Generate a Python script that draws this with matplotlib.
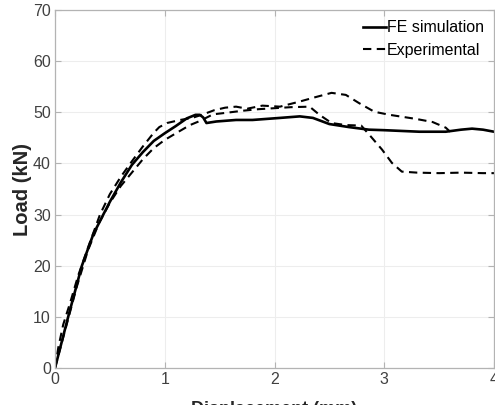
import matplotlib
matplotlib.use("Agg")
import matplotlib.pyplot as plt

plt.rcParams['font.family'] = ['Liberation Sans', 'DejaVu Sans']

# FE simulation curve (displacement mm, load kN)
fe_x = [0, 0.12, 0.245, 0.35, 0.44, 0.5, 0.6, 0.7, 0.8, 0.9, 1.0, 1.1, 1.2, 1.28, 1.32, 1.35,
        1.38, 1.47, 1.65, 1.8, 2.05, 2.23, 2.35, 2.5, 2.68, 2.86, 3.0, 3.32, 3.56, 3.7, 3.8, 3.9, 4.0]
fe_y = [0, 10, 20, 26.2, 30, 32.5, 36.3, 39.7, 42.2, 44.4, 45.9, 47.3, 48.8, 49.5, 49.5, 49.0,
        47.9, 48.2, 48.5, 48.5, 48.9, 49.2, 48.9, 47.7, 47.1, 46.6, 46.5, 46.2, 46.2, 46.6, 46.8, 46.6, 46.2]

# experimental specimen 1 (drops to ~38 kN)
exp1_x = [0, 0.03, 0.075, 0.14, 0.21, 0.3, 0.41, 0.5, 0.6, 0.7, 0.8, 0.9, 0.95, 1.02, 1.14,
          1.25, 1.35, 1.45, 1.55, 1.65, 1.75, 1.89, 2.05, 2.23, 2.38, 2.52, 2.65, 2.77, 2.91,
          3.05, 3.29, 3.44, 3.56, 3.6]
exp1_y = [0, 4, 8.5, 12.9, 18, 23.5, 30, 34, 37.4, 40.4, 43.3, 46, 47.1, 47.9, 48.5,
          48.9, 49.6, 50.4, 50.9, 51.1, 50.7, 51.3, 51.1, 52.1, 53, 53.8, 53.4, 51.8, 50.1,
          49.5, 48.7, 48.1, 47, 46.2]

# experimental specimen 2 (lower one early, peaks ~51 kN)
exp2_x = [0, 0.1, 0.2, 0.3, 0.4, 0.5, 0.6, 0.7, 0.8, 0.9, 1.0, 1.11, 1.23, 1.32, 1.44,
          1.56, 1.71, 1.85, 2.0, 2.15, 2.32, 2.41, 2.52, 2.65, 2.79, 2.88, 2.98,
          3.07, 3.16, 3.3, 3.5, 3.7, 3.9, 4.0]
exp2_y = [0, 8, 16, 23, 28.3, 32.3, 35.6, 38.2, 40.8, 43, 44.6, 46, 47.5, 48.3, 49.6,
          49.9, 50.3, 50.6, 50.8, 51, 51.1, 49.5, 47.9, 47.5, 47.4, 45.2, 42.7,
          40.1, 38.4, 38.2, 38.1, 38.2, 38.1, 38.1]

fig = plt.figure(figsize=(4.95, 4.05), dpi=100)
ax = fig.add_axes([55/495, 1 - 368/405, 439/495, 358/405])

ax.plot(fe_x, fe_y, color='black', lw=1.9, label='FE simulation')
ax.plot(exp1_x, exp1_y, color='black', lw=1.5, dashes=(4, 2.6), label='Experimental')
ax.plot(exp2_x, exp2_y, color='black', lw=1.5, dashes=(4, 2.6))

ax.set_xlim(0, 4)
ax.set_ylim(0, 70)
ax.set_xticks([0, 1, 2, 3, 4])
ax.set_yticks(range(0, 71, 10))
ax.grid(True, color='#ededed', lw=0.8)
ax.set_axisbelow(True)
for s in ax.spines.values():
    s.set_color('#b3b3b3')
    s.set_linewidth(0.9)
ax.tick_params(direction='in', length=4, width=0.8, color='#b3b3b3',
               labelcolor='#404040', labelsize=11.5, top=True, right=True, pad=3)

ax.set_ylabel('Load (kN)', fontsize=14.5, fontweight='bold', color='#262626', labelpad=1)
ax.set_xlabel('Displacement (mm)', fontsize=13, fontweight='bold', color='#262626', labelpad=10)

ax.legend(loc='upper right', frameon=False, fontsize=11.5, handlelength=1.45,
          handletextpad=0.05, labelspacing=0.45, borderaxespad=0.25)

fig.savefig('out.png', dpi=100)
